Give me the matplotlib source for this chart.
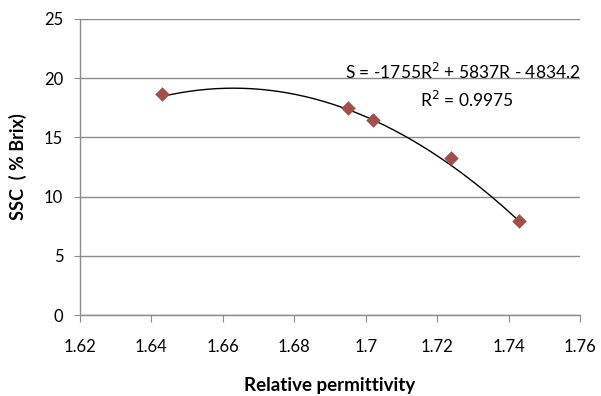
import numpy as np
import matplotlib
matplotlib.use("Agg")
import matplotlib.pyplot as plt

# Data
permittivity = [1.643, 1.695, 1.702, 1.724, 1.743]
ssc = [18.7, 17.5, 16.5, 13.3, 7.9]
trend_coefs = [-1755, 5837, -4834.2]
x_ticks = [1.62, 1.64, 1.66, 1.68, 1.70, 1.72, 1.74, 1.76]
x_tick_labels = ["1.62", "1.64", "1.66", "1.68", "1.7", "1.72", "1.74", "1.76"]
y_ticks = [0, 5, 10, 15, 20, 25]

plt.rcParams['font.family'] = ['Lato', 'DejaVu Sans']

fig = plt.figure(figsize=(6.01, 3.96), dpi=100)
ax = fig.add_axes([80/601, 81/396, 500/601, 296/396])

grid_c = '#8c8c8c'
ax.set_xlim(1.62, 1.76)
ax.set_ylim(0, 25)
ax.set_xticks(x_ticks)
ax.set_xticklabels(x_tick_labels)
ax.set_yticks(y_ticks)
ax.yaxis.grid(True, color=grid_c, linewidth=1.0)
ax.set_axisbelow(True)
for s in ['top', 'right']:
    ax.spines[s].set_visible(False)
for s in ['left', 'bottom']:
    ax.spines[s].set_color(grid_c)
    ax.spines[s].set_linewidth(1.0)
ax.tick_params(axis='x', direction='out', length=5, color=grid_c, labelsize=12, pad=12)
ax.tick_params(axis='y', direction='out', length=4, color=grid_c, labelsize=12, pad=8)

# trendline
xs = np.linspace(min(permittivity), max(permittivity), 200)
ax.plot(xs, np.polyval(trend_coefs, xs), color='black', linewidth=1.0, zorder=2)
ax.scatter(permittivity, ssc, marker='D', s=55, color='#A0504C', zorder=3, linewidths=0)

ax.text(1.0, 0.82, "S = -1755R$^2$ + 5837R - 4834.2", transform=ax.transAxes,
        ha='right', va='center', fontsize=12.5)
ax.text(0.774, 0.726, "R$^2$ = 0.9975", transform=ax.transAxes,
        ha='center', va='center', fontsize=12.5)

ax.set_xlabel("Relative permittivity", fontsize=13.5, fontweight='bold', labelpad=16)
ax.set_ylabel("SSC  ( % Brix)", fontsize=13, fontweight='bold', labelpad=12)

fig.savefig("out.png", dpi=100)
